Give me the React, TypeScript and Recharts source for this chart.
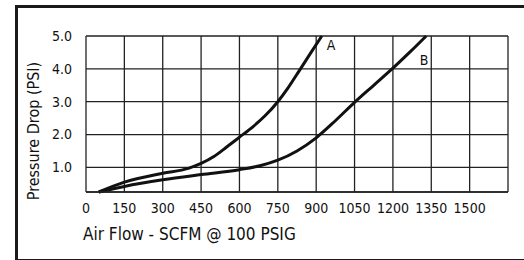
import { LineChart, Line, XAxis, YAxis, CartesianGrid, ReferenceDot } from 'recharts'

// Air flow (SCFM) vs pressure drop (PSI)
const flowA = [50, 150, 300, 400, 450, 500, 550, 600, 650, 700, 750, 790, 836, 880, 922]
const dropA = [0.25, 0.55, 0.82, 0.97, 1.12, 1.33, 1.62, 1.92, 2.22, 2.57, 3.0, 3.42, 3.97, 4.5, 5.0]
const flowB = [50, 150, 300, 450, 600, 680, 750, 825, 900, 975, 1050, 1125, 1200, 1265, 1330]
const dropB = [0.25, 0.42, 0.62, 0.78, 0.93, 1.05, 1.22, 1.5, 1.9, 2.42, 2.98, 3.5, 4.02, 4.5, 5.0]

const xTicks = [0, 150, 300, 450, 600, 750, 900, 1050, 1200, 1350, 1500, 1650]
const yTicks = [1, 2, 3, 4, 5]

const curveLabels = [
  { name: 'A', flow: 958, drop: 4.72 },
  { name: 'B', flow: 1322, drop: 4.28 }
]

const seriesA = flowA.map((f, i) => ({ flow: f, drop: dropA[i] }))
const seriesB = flowB.map((f, i) => ({ flow: f, drop: dropB[i] }))

const font = '"Liberation Sans Narrow", "DejaVu Sans Condensed", "Roboto", sans-serif'

export default function App() {
  return (
    <div style={{ position: 'absolute', left: 0, top: 0, width: 524, height: 260, background: '#fff' }}>
      {/* outer frame, open on the right */}
      <div
        style={{
          position: 'absolute',
          left: 15,
          top: 5,
          width: 520,
          height: 251,
          borderTop: '3px solid #1a1a1a',
          borderLeft: '3px solid #1a1a1a',
          borderBottom: '3px solid #1a1a1a'
        }}
      />
      <div
        style={{
          position: 'absolute',
          left: 33,
          top: 131,
          transform: 'translate(-50%, -50%) rotate(-90deg)',
          fontFamily: font,
          fontSize: 16,
          fontWeight: 500,
          whiteSpace: 'nowrap',
          color: '#111'
        }}
      >
        Pressure Drop (PSI)
      </div>
      <div
        style={{
          position: 'absolute',
          left: 83,
          top: 224,
          fontFamily: font,
          fontSize: 17,
          fontWeight: 500,
          whiteSpace: 'nowrap',
          color: '#111'
        }}
      >
        Air Flow - SCFM @ 100 PSIG
      </div>
      <LineChart
        width={524}
        height={260}
        margin={{ top: 36, right: 16, bottom: 0, left: 0 }}
        style={{ position: 'absolute', left: 0, top: 0 }}
      >
        <CartesianGrid stroke="#222" strokeWidth={1.3} />
        <XAxis
          dataKey="flow"
          type="number"
          domain={[0, 1650]}
          ticks={xTicks}
          interval={0}
          height={68}
          tickLine={false}
          axisLine={{ stroke: '#222', strokeWidth: 1.5 }}
          tickFormatter={(v) => (v === 1650 ? '' : String(v))}
          tick={{ fontSize: 14, fill: '#111', fontFamily: font }}
          tickMargin={5}
        />
        <YAxis
          dataKey="drop"
          type="number"
          domain={[0.25, 5]}
          ticks={yTicks}
          interval={0}
          width={86}
          tickLine={false}
          axisLine={false}
          tickFormatter={(v) => v.toFixed(1)}
          tick={{ fontSize: 14, fill: '#111', fontFamily: font }}
          tickMargin={8}
        />
        <Line
          data={seriesA}
          dataKey="drop"
          type="monotone"
          stroke="#111"
          strokeWidth={3}
          dot={false}
          isAnimationActive={false}
        />
        <Line
          data={seriesB}
          dataKey="drop"
          type="monotone"
          stroke="#111"
          strokeWidth={3}
          dot={false}
          isAnimationActive={false}
        />
        {curveLabels.map((l) => (
          <ReferenceDot
            key={l.name}
            x={l.flow}
            y={l.drop}
            r={0}
            stroke="none"
            label={{ value: l.name, position: 'center', fontSize: 14, fill: '#111', fontFamily: font }}
          />
        ))}
      </LineChart>
    </div>
  )
}
